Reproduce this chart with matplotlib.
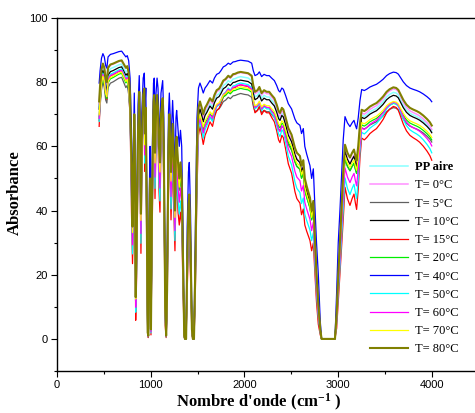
import numpy as np
import matplotlib
matplotlib.use("Agg")
import matplotlib.pyplot as plt

# ---- données ----
# spectre de référence (T= 80°C) : nombre d'onde (cm-1) / absorbance
nombre_onde = [450, 460, 475, 490, 505, 520, 532, 545, 570, 600, 630, 660, 690, 715, 735, 750,
               765, 780, 795, 806, 815, 825, 833, 840, 850, 865, 878, 888, 896, 905, 920, 932,
               939, 948, 958, 968, 975, 985, 993, 1003, 1015, 1030, 1038, 1046, 1057, 1068,
               1078, 1088, 1099, 1110, 1128, 1140, 1155, 1165, 1175, 1190, 1199, 1217, 1234,
               1247, 1259, 1270, 1277, 1292, 1305, 1318, 1331, 1345, 1358, 1366, 1378, 1390,
               1403, 1412, 1425, 1440, 1450, 1462, 1475, 1494, 1510, 1526, 1545, 1561, 1580,
               1600, 1633, 1660, 1680, 1704, 1730, 1750, 1775, 1800, 1828, 1850, 1880, 1900,
               1930, 1960, 2000, 2040, 2078, 2095, 2113, 2140, 2160, 2184, 2210, 2238, 2265,
               2291, 2320, 2345, 2365, 2380, 2400, 2416, 2440, 2469, 2504, 2540, 2560, 2593,
               2610, 2629, 2645, 2665, 2700, 2718, 2736, 2753, 2770, 2789, 2810, 2824, 2967,
               2985, 3002, 3020, 3038, 3055, 3074, 3100, 3127, 3150, 3170, 3185, 3198, 3215,
               3234, 3252, 3280, 3305, 3340, 3376, 3410, 3447, 3480, 3518, 3550, 3590, 3620,
               3643, 3670, 3696, 3730, 3767, 3800, 3839, 3870, 3910, 3950, 3980, 4000]
absorbance_ref = [74, 79, 84, 85.8, 84.5, 81, 80, 84.5, 85.5, 85.8, 86.2, 86.6, 86.8, 85.5, 84.5, 85,
                  83, 76, 55, 35, 48, 70, 50, 13, 30, 65, 77, 60, 39, 62, 76, 78,
                  64, 72, 40, 2, 1, 35, 50, 3, 45, 74, 76, 58, 70, 76,
                  72, 60, 55, 70, 75, 60, 10, 1, 15, 62, 70, 52, 67,
                  55, 40, 60, 63, 55, 50, 55, 50, 25, 1, 0, 0, 25,
                  42, 45, 30, 3, 0, 0, 20, 60, 72, 74, 72, 70, 72,
                  73, 75, 74, 76, 77.5, 78, 79, 80.5, 81, 82, 81.5, 82.5, 82.6,
                  83, 83.2, 83, 82.8, 82, 79, 77, 77.5, 78.5, 76.6, 77.5, 77, 77,
                  76, 75, 73, 71, 70.4, 72, 71.5, 69, 65.7, 63.6, 59.5, 58, 57,
                  54, 55.7, 50, 47.6, 44, 40, 43, 31, 20, 11, 3, 0, 0,
                  8, 20, 30, 41, 52, 60.5, 58, 56.5, 58, 59, 57, 55.6, 60,
                  67, 71.4, 71, 71.5, 72.4, 73, 73.5, 74.5, 75.5, 77, 77.8, 78.4, 78.2,
                  77.6, 76, 74.5, 73, 72, 71.5, 71, 70.5, 69.6, 68.5, 67.5, 66.5]

echantillons = ["PP aire", "T= 0°C", "T= 5°C", "T= 10°C", "T= 15°C", "T= 20°C",
                "T= 40°C", "T= 50°C", "T= 60°C", "T= 70°C", "T= 80°C"]

# niveaux de chaque courbe lus là où la référence vaut 12 (creux 840), 55 (creux 1100), 83 (plateau 2000)
niveaux_ref = [0, 12, 55, 83, 100]
niveaux = [
    [0, 11.0, 53.0, 81.5, 100],   # PP aire
    [0, 11.0, 53.0, 82.8, 100],   # 0
    [0, 11.5, 51.0, 76.2, 100],   # 5
    [0, 12.0, 53.0, 80.4, 100],   # 10
    [0, 5.0, 39.5, 78.9, 100],    # 15
    [0, 11.0, 51.0, 77.8, 100],   # 20
    [0, 22.0, 65.0, 86.7, 100],   # 40
    [0, 7.5, 43.0, 79.5, 100],    # 50
    [0, 9.0, 47.0, 79.0, 100],    # 60
    [0, 11.5, 52.0, 78.3, 100],   # 70
    [0, 12.0, 55.0, 83.0, 100],   # 80
]

couleurs = ["#88ffff", "#ff90ff", "#606060", "#000000", "#ff0000", "#00ee00",
            "#0000ff", "#00ffff", "#ff00ff", "#ffff00", "#808000"]
epaisseurs = [1.1, 1.1, 0.9, 0.9, 0.9, 0.9, 0.9, 0.9, 0.9, 0.9, 1.5]

plt.rcParams['font.family'] = ['Liberation Sans', 'DejaVu Sans']
plt.rcParams['mathtext.default'] = 'regular'

fig = plt.figure(figsize=(4.75, 4.13), dpi=100)
ax = fig.add_axes([57 / 475, 42 / 413, 421.6 / 475, 353 / 413])

x = np.array(nombre_onde)
ref = np.array(absorbance_ref)
for nom, niv, c, lw in zip(echantillons, niveaux, couleurs, epaisseurs):
    y = np.interp(ref, niveaux_ref, niv)
    ax.plot(x, y, color=c, lw=lw, label=nom)

ax.set_xlim(0, 4500)
ax.set_ylim(-10, 100)
ax.set_xticks([0, 1000, 2000, 3000, 4000])
ax.set_xticks(np.arange(500, 4500, 1000), minor=True)
ax.set_yticks([0, 20, 40, 60, 80, 100])
ax.set_yticks(np.arange(-10, 100, 20), minor=True)
ax.tick_params(which='both', direction='out', width=0.8, labelsize=8, top=False, right=False)
ax.tick_params(which='major', length=4, pad=2.5)
ax.tick_params(which='minor', length=2.5)
for s in ax.spines.values():
    s.set_linewidth(1.0)

serif_gras = dict(family=['Liberation Serif', 'DejaVu Serif'], weight='bold', size=12)
ax.set_xlabel("Nombre d'onde (cm$^{-1}$ )", **serif_gras)
ax.xaxis.set_label_coords((259 - 57) / 421.6, -0.058)
ax.set_ylabel("Absorbance", **serif_gras)
ax.yaxis.set_label_coords(-0.082, 0.504)

leg = ax.legend(loc='upper left', bbox_to_anchor=(370 / 475, 1 - 161 / 413),
                bbox_transform=fig.transFigure, frameon=False, borderpad=0, borderaxespad=0,
                handlelength=3.0, handletextpad=0.6, labelspacing=0.5,
                prop=dict(family=['Liberation Serif', 'DejaVu Serif'], size=9))
leg.get_texts()[0].set_fontweight('bold')

fig.savefig("out.png", dpi=100)
